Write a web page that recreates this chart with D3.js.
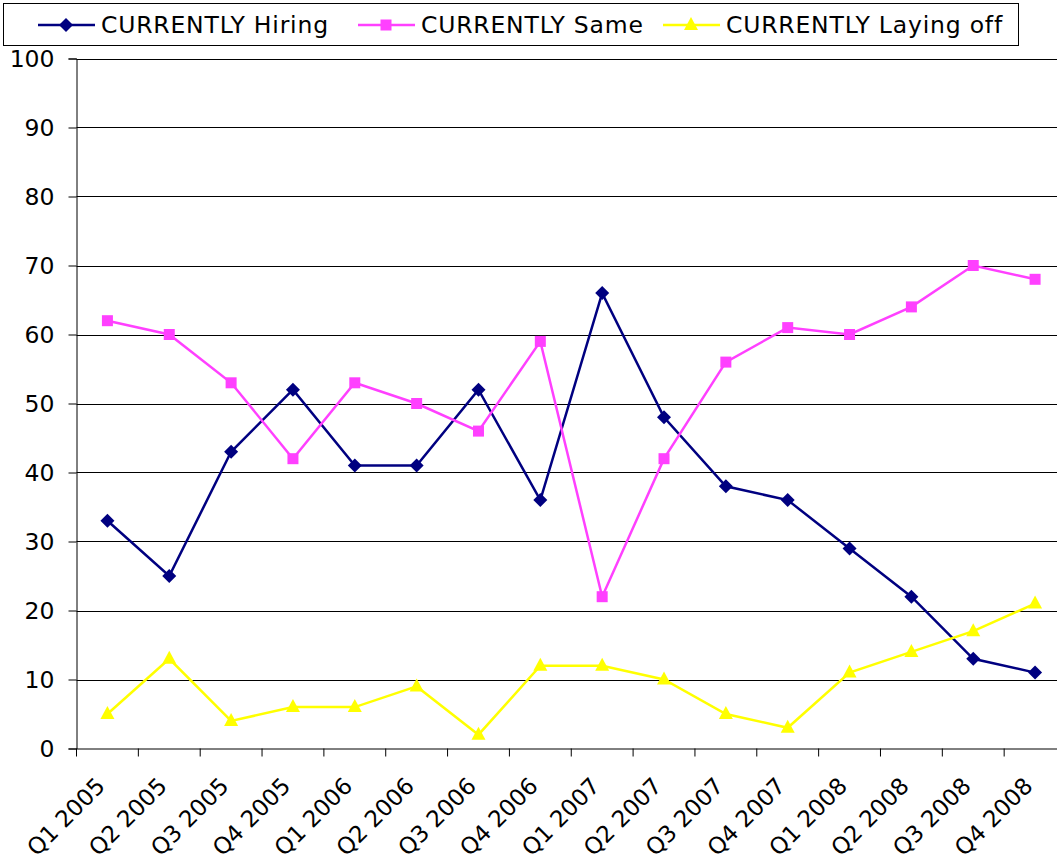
<!DOCTYPE html>
<html><head><meta charset="utf-8">
<script src="https://cdn.jsdelivr.net/npm/d3@7"></script>
<style>body{margin:0;background:#fff;overflow:hidden}svg{display:block}</style>
</head><body>
<script>
const categories = ["Q1 2005","Q2 2005","Q3 2005","Q4 2005","Q1 2006","Q2 2006","Q3 2006","Q4 2006","Q1 2007","Q2 2007","Q3 2007","Q4 2007","Q1 2008","Q2 2008","Q3 2008","Q4 2008"];
const hiring = [33,25,43,52,41,41,52,36,66,48,38,36,29,22,13,11];
const same = [62,60,53,42,53,50,46,59,22,42,56,61,60,64,70,68];
const layingOff = [5,13,4,6,6,9,2,12,12,10,5,3,11,14,17,21];
const yTicks = [0,10,20,30,40,50,60,70,80,90,100];
const seriesNames = ["CURRENTLY Hiring","CURRENTLY Same","CURRENTLY Laying off"];

const W=1057,H=865;
const L=76.5,R=1066,T=58.5,B=748.5;
const svg=d3.select("body").append("svg").attr("width",W).attr("height",H);
const font="Verdana, 'DejaVu Sans', sans-serif";
const fs=23.5;
const x=d3.scaleBand().domain(categories).range([L,R]);
const y=d3.scaleLinear().domain([0,100]).range([B,T]);

// gridlines
svg.append("g").selectAll("line").data(yTicks.filter(d=>d>0)).join("line")
 .attr("x1",L).attr("x2",R).attr("y1",d=>Math.round(y(d))+0.5).attr("y2",d=>Math.round(y(d))+0.5)
 .attr("stroke","#000").attr("stroke-width",1);

const yAxis=svg.append("g").attr("transform",`translate(${L},0)`)
 .call(d3.axisLeft(y).tickValues(yTicks).tickSize(8).tickPadding(14));
yAxis.select(".domain").attr("stroke","#000");
yAxis.selectAll("text").attr("font-family",font).attr("font-size",fs).attr("fill","#000");

const xAxis=svg.append("g").attr("transform",`translate(0,${B})`)
 .call(d3.axisBottom(x).tickSize(0).tickFormat(""));
xAxis.select(".domain").attr("stroke","#000");
svg.append("g").selectAll("line").data(categories).join("line")
 .attr("x1",d=>x(d)).attr("x2",d=>x(d)).attr("y1",B).attr("y2",B+8).attr("stroke","#000");
svg.append("g").selectAll("text").data(categories).join("text")
 .attr("transform",d=>`translate(${x(d)+x.bandwidth()/2-1},${B+39}) rotate(-45)`)
 .attr("text-anchor","end")
 .attr("font-family",font).attr("font-size",23).attr("fill","#000").text(d=>d);

const series=[
 {name:seriesNames[0],values:hiring,color:"#000080",shape:"diamond"},
 {name:seriesNames[1],values:same,color:"#FF40FF",shape:"square"},
 {name:seriesNames[2],values:layingOff,color:"#FFFF00",shape:"triangle"}
];
function marker(g,shape,color){
 if(shape==="diamond") g.append("path").attr("d","M0,-7L7,0L0,7L-7,0Z").attr("fill",color);
 else if(shape==="square") g.append("rect").attr("x",-5.5).attr("y",-5.5).attr("width",11).attr("height",11).attr("fill",color);
 else g.append("path").attr("d","M0,-8L7,5L-7,5Z").attr("fill",color);
}
const cx=d=>x(d)+x.bandwidth()/2;
series.forEach(s=>{
 const line=d3.line().x((d,i)=>cx(categories[i])).y(d=>y(d));
 svg.append("path").datum(s.values).attr("d",line).attr("fill","none").attr("stroke",s.color).attr("stroke-width",2.5);
 s.values.forEach((v,i)=>{
   const g=svg.append("g").attr("transform",`translate(${cx(categories[i])},${y(v)})`);
   marker(g,s.shape,s.color);
 });
});

// legend
const lg=svg.append("g");
lg.append("rect").attr("x",3.5).attr("y",3.5).attr("width",1015).attr("height",42).attr("fill","#fff").attr("stroke","#000");
const lx=[38,358,663];
series.forEach((s,i)=>{
 const g=lg.append("g").attr("transform",`translate(${lx[i]},25)`);
 g.append("line").attr("x1",0).attr("x2",57).attr("stroke",s.color).attr("stroke-width",2.5);
 const m=g.append("g").attr("transform","translate(28,0)");
 marker(m,s.shape,s.color);
 g.append("text").attr("x",63).attr("y",8).attr("font-family",font).attr("font-size",fs)
  .attr("letter-spacing",0.8).text(s.name);
});
</script>
</body></html>
